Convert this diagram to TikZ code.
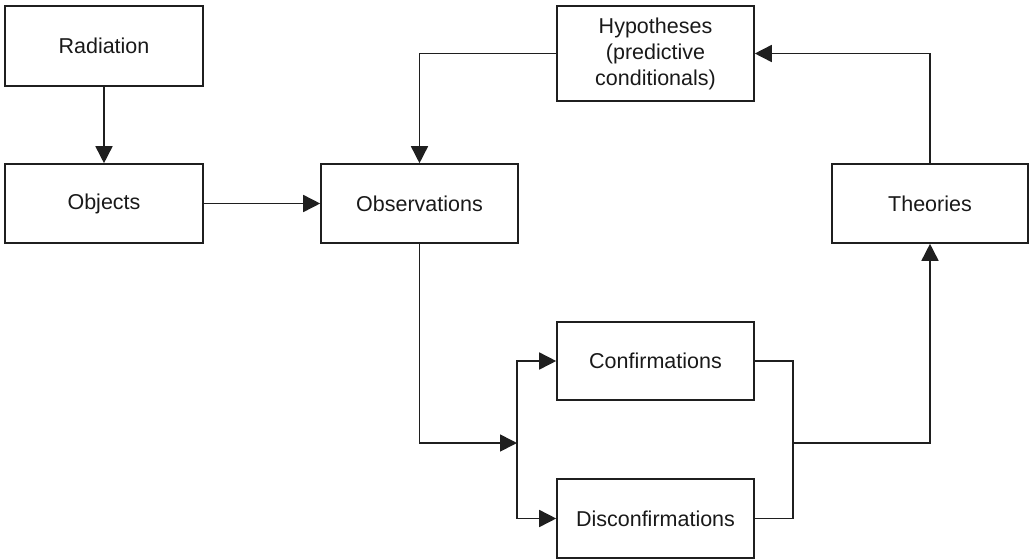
\documentclass[tikz,border=0pt]{standalone}
\usepackage{fontspec}
\setmainfont{Liberation Sans}
\usetikzlibrary{arrows.meta}
\begin{document}
\begin{tikzpicture}[x=1pt,y=-1pt,
  box/.style={draw=black!88, line width=1.6pt, rectangle, inner sep=0pt,
    align=center, font=\fontsize{21.5}{26}\selectfont, text=black!90},
  link/.style={draw=black!88, line width=1.6pt},
  arrow/.style={link, -{Triangle[width=17pt,length=17pt]}}]
\useasboundingbox (0,0) rectangle (1029,560);
% boxes
\node[box, minimum width=198pt, minimum height=80pt] (rad) at (104,46) {Radiation};
\node[box, minimum width=198pt, minimum height=79pt] (obj) at (104,203.5) {Objects};
\node[box, minimum width=197pt, minimum height=79pt] (obs) at (419.5,203.5) {Observations};
\node[box, minimum width=197pt, minimum height=95pt] (hyp) at (655.5,53.5) {Hypotheses\\(predictive\\conditionals)};
\node[box, minimum width=196pt, minimum height=79pt] (the) at (930,203.5) {Theories};
\node[box, minimum width=197pt, minimum height=78pt] (con) at (655.5,361) {Confirmations};
\node[box, minimum width=197pt, minimum height=79pt] (dis) at (655.5,518.5) {Disconfirmations};
% junction points
\coordinate (split) at (517,443);
\coordinate (merge) at (793,443);
% connectors
\draw[arrow] (rad) -- (obj);
\draw[arrow] (obj) -- (obs);
\draw[arrow] (hyp.west) -| (obs.north);
\draw[arrow] (the.north) |- (hyp.east);
\draw[arrow] (obs.south) |- (split);
\draw[arrow] (split) |- (con.west);
\draw[arrow] (split) |- (dis.west);
\draw[link] (con.east) -| (merge);
\draw[link] (dis.east) -| (merge);
\draw[arrow] (merge) -| (the.south);
\end{tikzpicture}
\end{document}
